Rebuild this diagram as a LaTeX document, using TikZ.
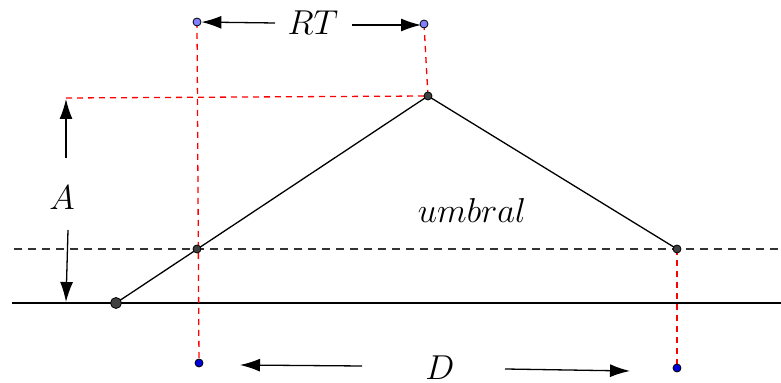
\documentclass[tikz,border=0pt]{standalone}
\usepackage{amsmath,amssymb}
\usetikzlibrary{arrows.meta}

\begin{document}
\begin{tikzpicture}[
    x=0.5pt, y=-0.5pt,
    line/.style={line width=0.65pt},
    guide/.style={line width=0.65pt, dash pattern=on 4pt off 3pt, black!80},
    proj/.style={line width=0.65pt, dash pattern=on 3pt off 2.5pt, red},
    arrow/.style={-{Latex[length=10pt, width=6.5pt]}, line width=0.65pt},
    dot/.style={circle, draw, line width=0.4pt, inner sep=0pt, minimum size=4pt, fill=black!75},
    bigdot/.style={dot, minimum size=5.5pt},
    topdot/.style={dot, fill=blue!50},
    lowdot/.style={dot, fill=blue!85!black},
    label/.style={font=\fontsize{18}{21}\selectfont}
]
\useasboundingbox (0,0) rectangle (781,383);

% Key points of the pulse
\coordinate (start) at (116,303);
\coordinate (peak) at (428,96);
\coordinate (cutL) at (197,249);
\coordinate (cutR) at (677,249);
\coordinate (rtL) at (197,22);
\coordinate (rtR) at (424,24);
\coordinate (dL) at (199,363);
\coordinate (dR) at (677,368);
\coordinate (aTop) at (66,98);

% Base line and threshold
\coordinate (baseW) at (12,303);
\coordinate (baseE) at (781,303);
\coordinate (thrW) at (14,249);
\coordinate (thrE) at (781,249);
\draw[line] (baseW) -- (baseE);
\draw[guide] (thrW) -- (thrE);

% Red projections
\draw[proj] (aTop) -- (peak);
\draw[proj] (rtL) -- (dL);
\draw[proj] (peak) -- (rtR);
\draw[proj] (cutR) -- (dR);

% Pulse
\draw[line] (start) -- (peak) -- (cutR);

% Points
\node[bigdot] (p0) at (start) {};
\node[dot] (p1) at (peak) {};
\node[dot] (p2) at (cutL) {};
\node[dot] (p3) at (cutR) {};
\node[topdot] (t1) at (rtL) {};
\node[topdot] (t2) at (rtR) {};
\node[lowdot] (b1) at (dL) {};
\node[lowdot] (b2) at (dR) {};

% Labels and dimension arrows
\node[label] (rt) at (313,23) {$RT$};
\node[label] (amp) at (62,198) {$A$};
\node[label] (dur) at (440,368) {$D$};
\node[label] (thr) at (472,211) {$umbral$};

\coordinate (rtArL) at (275,23);
\coordinate (rtArR) at (352,25);
\coordinate (rtTipR) at (421,25);
\coordinate (aArU) at (66,158);
\coordinate (aArD) at (68,230);
\coordinate (aTipD) at (66,302);
\coordinate (aTipU) at (66,99);
\coordinate (dArL) at (362,366);
\coordinate (dTipL) at (240,365);
\coordinate (dArR) at (505,369);
\coordinate (dTipR) at (630,371);

\draw[arrow] (rtArL) -- (t1);
\draw[arrow] (rtArR) -- (rtTipR);
\draw[arrow] (aArU) -- (aTipU);
\draw[arrow] (aArD) -- (aTipD);
\draw[arrow] (dArL) -- (dTipL);
\draw[arrow] (dArR) -- (dTipR);

\end{tikzpicture}
\end{document}
